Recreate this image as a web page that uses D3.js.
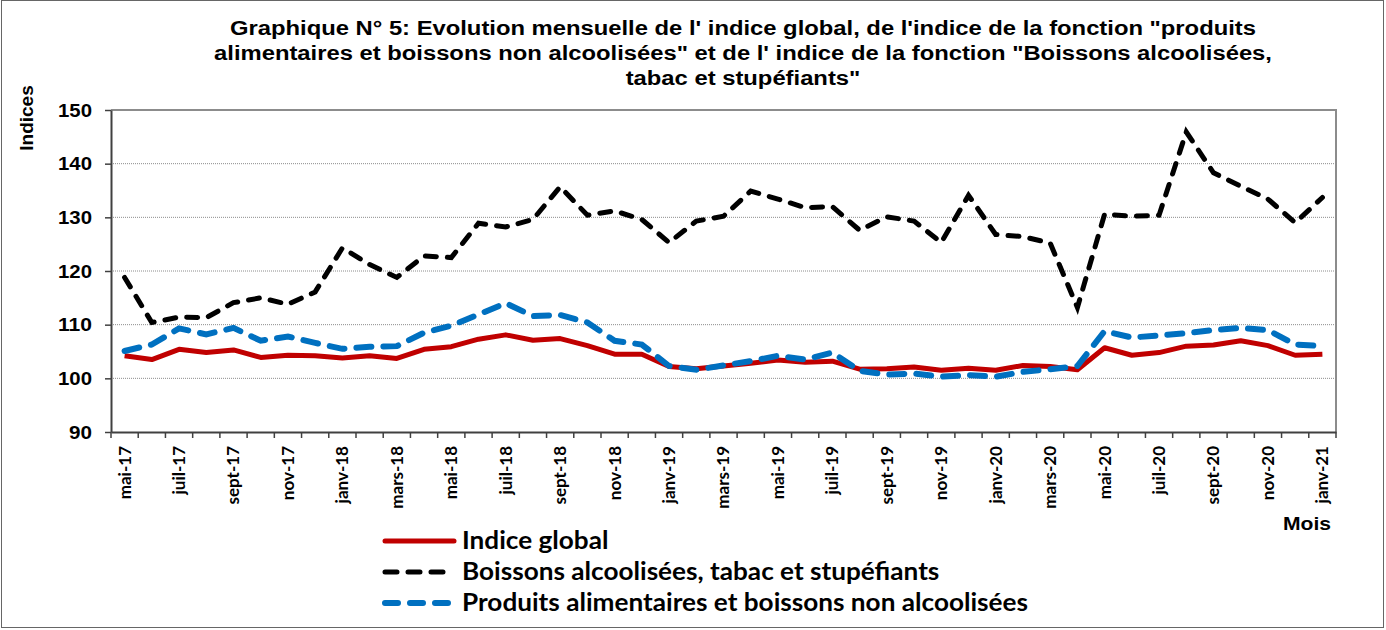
<!DOCTYPE html>
<html>
<head>
<meta charset="utf-8">
<script src="https://cdn.jsdelivr.net/npm/d3@7"></script>
<style>
  body { margin: 0; background: #fff; }
</style>
</head>
<body>
<div id="canvas"></div>
<script>
"use strict"

/* data */
let months = ["mai-17", "juin-17", "juil-17", "août-17", "sept-17", "oct-17", "nov-17", "déc-17",
    "janv-18", "févr-18", "mars-18", "avr-18", "mai-18", "juin-18", "juil-18", "août-18", "sept-18", "oct-18", "nov-18", "déc-18",
    "janv-19", "févr-19", "mars-19", "avr-19", "mai-19", "juin-19", "juil-19", "août-19", "sept-19", "oct-19", "nov-19", "déc-19",
    "janv-20", "févr-20", "mars-20", "avr-20", "mai-20", "juin-20", "juil-20", "août-20", "sept-20", "oct-20", "nov-20", "déc-20",
    "janv-21"];

let indiceGlobal = [104.2, 103.5, 105.4, 104.8, 105.3, 103.9, 104.3, 104.2, 103.8, 104.2, 103.7, 105.4, 105.9, 107.3, 108.1,
    107.1, 107.4, 106.1, 104.5, 104.5, 102.2, 101.8, 102.3, 102.8, 103.4, 103.0, 103.2, 101.7, 101.8, 102.1,
    101.5, 101.9, 101.5, 102.4, 102.2, 101.6, 105.7, 104.3, 104.8, 106.0, 106.2, 107.0, 106.1, 104.3, 104.5];

let boissonsAlcool = [118.8, 110.4, 111.4, 111.3, 114.1, 115.0, 113.8, 116.1, 124.3, 121.2, 118.8, 122.8, 122.5, 128.9, 128.2,
    129.6, 135.7, 130.4, 131.2, 129.6, 125.3, 129.3, 130.2, 134.9, 133.4, 131.8, 132.0, 127.6, 130.1, 129.3,
    125.3, 134.1, 126.8, 126.4, 125.2, 113.2, 130.6, 130.2, 130.4, 145.9, 138.3, 135.8, 133.4, 129.0, 133.7];

let produitsAlim = [105.1, 106.3, 109.3, 108.2, 109.4, 107.0, 107.8, 106.6, 105.5, 105.9, 106.0, 108.5, 109.8, 111.9, 114.0,
    111.6, 111.8, 110.4, 107.0, 106.3, 102.3, 101.6, 102.4, 103.2, 104.2, 103.5, 104.8, 101.4, 100.7, 100.9,
    100.3, 100.6, 100.3, 101.2, 101.7, 102.3, 108.8, 107.6, 108.0, 108.4, 109.0, 109.4, 109.0, 106.3, 106.0];

let yTicks = [90, 100, 110, 120, 130, 140, 150];

let seriesNames = ["Indice global", "Boissons alcoolisées, tabac et stupéfiants", "Produits alimentaires et boissons non alcoolisées"];

let titleLines = ["Graphique N° 5: Evolution mensuelle de l' indice global, de l'indice de la fonction \"produits",
    "alimentaires et boissons non alcoolisées\" et de l' indice de la fonction \"Boissons alcoolisées,",
    "tabac et stupéfiants\""];

/* canvas */
let drawing = d3.select("#canvas")
    .append("svg")
    .attr("width", 1386)
    .attr("height", 630);

let border = drawing.append("rect")
    .attr("x", 1.5)
    .attr("y", 0.5)
    .attr("width", 1382)
    .attr("height", 627)
    .attr("fill", "none")
    .attr("stroke", "#666");

/* plot area */
let plotLeft = 111, plotRight = 1336, plotTop = 110, plotBottom = 432;

let x = d3.scaleBand()
    .domain(months)
    .range([plotLeft, plotRight])
    .padding(0);

let y = d3.scaleLinear()
    .domain([90, 150])
    .range([plotBottom, plotTop]);

let cx = d => x(d) + x.bandwidth() / 2;

/* gridlines */
drawing.append("g")
    .selectAll("line")
    .data(yTicks.filter(t => t > 90 && t < 150))
    .join("line")
    .attr("x1", plotLeft)
    .attr("x2", plotRight)
    .attr("y1", d => y(d))
    .attr("y2", d => y(d))
    .attr("stroke", "#8c8c8c")
    .attr("stroke-width", 1)
    .attr("stroke-dasharray", "1,1");

/* frame: top and right in grey */
drawing.append("path")
    .attr("d", `M${plotLeft},${plotTop}H${plotRight}V${plotBottom}`)
    .attr("fill", "none")
    .attr("stroke", "#8c8c8c")
    .attr("stroke-width", 2);

/* y axis */
let yAxis = drawing.append("g")
    .attr("transform", `translate(${plotLeft},0)`)
    .call(d3.axisLeft(y).tickValues(yTicks).tickSize(6).tickPadding(13).tickSizeOuter(0));

yAxis.select(".domain").attr("stroke", "#404040").attr("stroke-width", 2);
yAxis.selectAll(".tick line").attr("stroke", "#404040").attr("stroke-width", 1.5);
yAxis.selectAll(".tick text")
    .attr("font-family", "'Liberation Sans', Arial, sans-serif")
    .attr("font-weight", "bold")
    .attr("font-size", 19)
    .attr("textLength", 34)
    .attr("lengthAdjust", "spacingAndGlyphs")
    .attr("fill", "#000");
yAxis.selectAll(".tick text").filter(d => d < 100).attr("textLength", 23);

/* x axis: labels every other month, ticks on band edges */
let xAxis = drawing.append("g")
    .attr("transform", `translate(0,${plotBottom})`)
    .call(d3.axisBottom(x).tickValues(months.filter((m, i) => i % 2 === 0)).tickSize(0).tickSizeOuter(0));

xAxis.select(".domain").attr("stroke", "#404040").attr("stroke-width", 2);
xAxis.selectAll(".tick text")
    .attr("transform", "rotate(-90)")
    .attr("x", -14)
    .attr("y", 0)
    .attr("dy", "0.35em")
    .attr("text-anchor", "end")
    .attr("font-family", "Lato, 'Open Sans', sans-serif")
    .attr("font-weight", "bold")
    .attr("font-size", 17)
    .attr("fill", "#000");

drawing.append("g")
    .selectAll("line")
    .data(months.concat(["end"]))
    .join("line")
    .attr("x1", (d, i) => i < months.length ? x(d) : plotRight)
    .attr("x2", (d, i) => i < months.length ? x(d) : plotRight)
    .attr("y1", plotBottom)
    .attr("y2", plotBottom + 6)
    .attr("stroke", "#404040")
    .attr("stroke-width", 1.5);

/* series lines */
let line = d3.line()
    .x((d, i) => cx(months[i]))
    .y(d => y(d));

let RedLine = drawing.append("path")
    .datum(indiceGlobal)
    .attr("d", line)
    .attr("fill", "none")
    .attr("stroke", "#c00000")
    .attr("stroke-width", 5)
    .attr("stroke-linejoin", "round");

let BlackLine = drawing.append("path")
    .datum(boissonsAlcool)
    .attr("d", line)
    .attr("fill", "none")
    .attr("stroke", "#000")
    .attr("stroke-width", 5)
    .attr("stroke-dasharray", "11,11")
    .attr("stroke-linecap", "round");

let BlueLine = drawing.append("path")
    .datum(produitsAlim)
    .attr("d", line)
    .attr("fill", "none")
    .attr("stroke", "#0070c0")
    .attr("stroke-width", 6)
    .attr("stroke-dasharray", "15,12")
    .attr("stroke-linecap", "round");

/* title, stretched sideways like the original */
drawing.append("g")
    .attr("transform", "translate(743,0) scale(1.19,1)")
    .append("text")
    .attr("text-anchor", "middle")
    .attr("font-family", "'Liberation Sans', Arial, sans-serif")
    .attr("font-weight", "bold")
    .attr("font-size", 20)
    .selectAll("tspan")
    .data(titleLines)
    .join("tspan")
    .attr("x", 0)
    .attr("y", (d, i) => 35 + i * 25)
    .text(d => d);

/* axis titles */
drawing.append("text")
    .attr("transform", "translate(33,118) rotate(-90)")
    .attr("text-anchor", "middle")
    .attr("font-family", "'Liberation Sans', Arial, sans-serif")
    .attr("font-weight", "bold")
    .attr("font-size", 19)
    .text("Indices");

drawing.append("text")
    .attr("x", 1331)
    .attr("y", 530)
    .attr("text-anchor", "end")
    .attr("font-family", "'Liberation Sans', Arial, sans-serif")
    .attr("font-weight", "bold")
    .attr("font-size", 19)
    .attr("textLength", 48)
    .attr("lengthAdjust", "spacingAndGlyphs")
    .text("Mois");

/* legend */
let legendStyles = [
    {color: "#c00000", width: 5, dash: null},
    {color: "#000", width: 5, dash: "12,11"},
    {color: "#0070c0", width: 6, dash: "13,12"}
];

let legend = drawing.append("g")
    .selectAll("g")
    .data(seriesNames)
    .join("g")
    .attr("transform", (d, i) => `translate(0,${541 + i * 31})`);

legend.append("line")
    .attr("x1", 385)
    .attr("x2", 454)
    .attr("y1", 0)
    .attr("y2", 0)
    .attr("stroke", (d, i) => legendStyles[i].color)
    .attr("stroke-width", (d, i) => legendStyles[i].width)
    .attr("stroke-dasharray", (d, i) => legendStyles[i].dash)
    .attr("stroke-linecap", "round");

legend.append("g")
    .attr("transform", "translate(462,0) scale(1.09,1)")
    .append("text")
    .attr("x", 0)
    .attr("y", 0)
    .attr("dy", "0.35em")
    .attr("font-family", "Lato, 'Open Sans', sans-serif")
    .attr("font-weight", "bold")
    .attr("font-size", 24)
    .text(d => d);
</script>
</body>
</html>
